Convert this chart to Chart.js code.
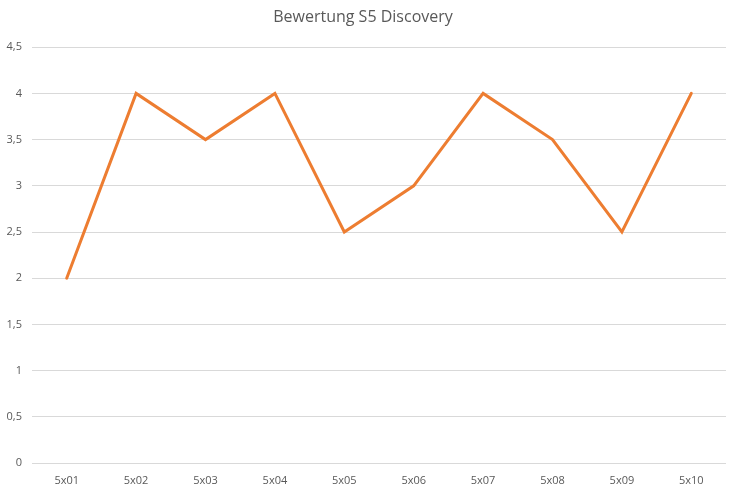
<!DOCTYPE html>
<html>
<head>
<meta charset="utf-8">
<script src="https://cdn.jsdelivr.net/npm/chart.js@4"></script>
<style>
  html, body { margin: 0; padding: 0; background: #fff; }
  #wrap { width: 734px; height: 488px; }
</style>
</head>
<body>
<div id="wrap"><canvas id="chart" width="734" height="488"></canvas></div>
<script>
// Daten
const episodes = ['5x01', '5x02', '5x03', '5x04', '5x05', '5x06', '5x07', '5x08', '5x09', '5x10'];
const ratings = [2, 4, 3.5, 4, 2.5, 3, 4, 3.5, 2.5, 4];
const yTickLabels = ['0', '0,5', '1', '1,5', '2', '2,5', '3', '3,5', '4', '4,5'];

const textColor = '#595959';
const fontFamily = '"Open Sans", "Liberation Sans", sans-serif';

const ctx = document.getElementById('chart').getContext('2d');
new Chart(ctx, {
    type: 'line',
    data: {
        labels: episodes,
        datasets: [{
            label: 'Bewertung',
            data: ratings,
            borderColor: '#ED7D31',
            borderWidth: 3,
            pointRadius: 0,
            tension: 0,
            borderCapStyle: 'round',
            borderJoinStyle: 'miter'
        }]
    },
    options: {
        responsive: false,
        animation: false,
        layout: { padding: { left: 0, right: 8, top: 0, bottom: 0 } },
        plugins: {
            legend: { display: false },
            tooltip: { enabled: false },
            title: {
                display: true,
                text: 'Bewertung S5 Discovery',
                color: textColor,
                font: { family: fontFamily, size: 16, weight: 'normal' },
                padding: { top: 8, bottom: 20 }
            }
        },
        scales: {
            x: {
                offset: true,
                grid: { display: false },
                border: { display: false },
                ticks: {
                    color: textColor,
                    font: { family: fontFamily, size: 11 },
                    padding: 3,
                    maxRotation: 0
                },
                afterFit: (scale) => { scale.height = 25; }
            },
            y: {
                min: 0,
                max: 4.5,
                grid: { color: '#d9d9d9', drawTicks: false },
                border: { display: false },
                ticks: {
                    stepSize: 0.5,
                    color: textColor,
                    font: { family: fontFamily, size: 11 },
                    padding: 10,
                    callback: (value, index) => yTickLabels[index]
                },
                afterFit: (scale) => { scale.width = 32; }
            }
        }
    }
});
</script>
</body>
</html>
